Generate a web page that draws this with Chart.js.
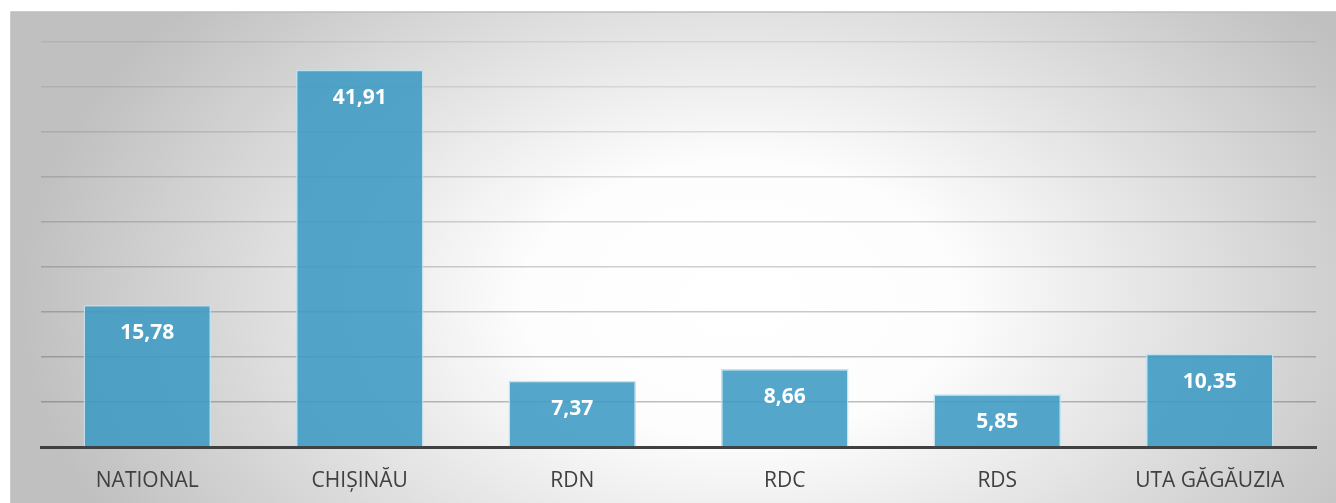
<!DOCTYPE html>
<html>
<head>
<meta charset="utf-8">
<script src="https://cdn.jsdelivr.net/npm/chart.js@4"></script>
<style>
  body{margin:0;background:#fff;}
  canvas{display:block;}
</style>
</head>
<body>
<canvas id="chart" width="1336" height="503"></canvas>
<script>
const categories = ["NATIONAL","CHIȘINĂU","RDN","RDC","RDS","UTA GĂGĂUZIA"];
const values = [15.78, 41.91, 7.37, 8.66, 5.85, 10.35];
const yMax = 45;
const yStep = 5;

// gray "office" style background, lighter in the middle
const backgroundPlugin = {
    id:"bgPanel",
    beforeDraw(chart){
        const ctx = chart.ctx;
        const x0 = 11, y0 = 12, x1 = chart.width, y1 = chart.height;
        ctx.save();
        ctx.fillStyle = "#ffffff";
        ctx.fillRect(0,0,chart.width,chart.height);
        const cx = 740, cy = 300, rx = 720, ry = 460;
        ctx.beginPath();
        ctx.rect(x0,y0,x1-x0,y1-y0);
        ctx.clip();
        ctx.translate(cx,cy);
        ctx.scale(1, ry/rx);
        const g = ctx.createRadialGradient(0,0,0,0,0,rx);
        g.addColorStop(0,"#ffffff");
        g.addColorStop(0.3,"#fdfdfd");
        g.addColorStop(1,"#c0c0c0");
        ctx.fillStyle = g;
        ctx.fillRect(-cx-10, -cy*rx/ry-10, x1+20, (y1+20)*rx/ry+20);
        ctx.restore();
        ctx.save();
        ctx.strokeStyle = "#bdbdbd";
        ctx.lineWidth = 1.5;
        ctx.beginPath();
        ctx.moveTo(x0, y1);
        ctx.lineTo(x0, y0);
        ctx.lineTo(x1, y0);
        ctx.stroke();
        ctx.restore();
    }
};

const valueLabels = {
    id:"valueLabels",
    afterDatasetsDraw(chart){
        const ctx = chart.ctx;
        const meta = chart.getDatasetMeta(0);
        ctx.save();
        ctx.fillStyle = "#ffffff";
        ctx.font = "bold 21px 'Open Sans'";
        ctx.textAlign = "center";
        ctx.textBaseline = "middle";
        meta.data.forEach((bar,i)=>{
            const txt = values[i].toFixed(2).replace(".",",");
            ctx.fillText(txt, bar.x, bar.y + 28);
        });
        ctx.restore();
    }
};

new Chart(document.getElementById("chart"),{
    type:"bar",
    data:{
        labels:categories,
        datasets:[{
            data:values,
            backgroundColor:"rgba(60,155,195,0.88)",
            borderColor:"rgba(190,225,238,0.9)",
            borderWidth:1.5,
            categoryPercentage:0.6,
            barPercentage:1
        }]
    },
    options:{
        responsive:false,
        animation:false,
        layout:{ padding:{ left:41, right:20, top:42, bottom:0 } },
        plugins:{
            legend:{ display:false },
            tooltip:{ enabled:false }
        },
        scales:{
            x:{
                grid:{ display:false, drawTicks:false },
                border:{ display:true, color:"#404040", width:3 },
                ticks:{
                    color:"#404040",
                    font:{ family:"'Open Sans'", size:21 },
                    padding:21
                },
                afterFit(axis){ axis.height = 56; }
            },
            y:{
                min:0,
                max:yMax,
                ticks:{ display:false, stepSize:yStep },
                border:{ display:false },
                grid:{
                    drawTicks:false,
                    lineWidth:1.5,
                    color(ctx){
                        const v = ctx.tick ? ctx.tick.value : 0;
                        const a = 0.36 - 0.26*(v/yMax);
                        return "rgba(60,60,60,"+a.toFixed(3)+")";
                    }
                },
                afterFit(axis){ axis.width = 0; }
            }
        }
    },
    plugins:[backgroundPlugin, valueLabels]
});
</script>
</body>
</html>
